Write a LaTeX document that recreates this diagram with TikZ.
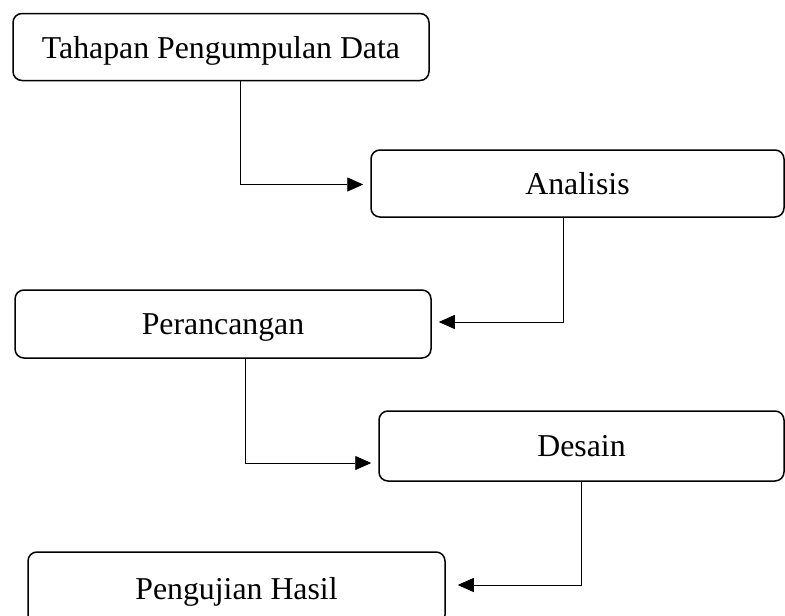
\documentclass[tikz,border=0pt]{standalone}
\usepackage{fontspec}
\setmainfont{Liberation Serif}
\usetikzlibrary{arrows.meta}

\begin{document}
\begin{tikzpicture}[x=1pt,y=-1pt,
        box/.style={draw,line width=1.5pt,rounded corners=9pt,inner sep=0pt,text depth=0pt,
          font=\fontsize{31.8}{38}\selectfont},
        flow/.style={-{Triangle[length=16pt,width=14pt]},line width=0.9pt,shorten >=7pt}]

  \useasboundingbox (0,0) rectangle (785,616);

  \node[box,minimum width=416pt,minimum height=67pt] (tahap)    at (221,47) {Tahapan Pengumpulan Data};
  \node[box,minimum width=413pt,minimum height=67pt] (analisis) at (577.5,183.5) {Analisis};
  \node[box,minimum width=416pt,minimum height=68pt] (rancang)  at (223,324) {Perancangan};
  \node[box,minimum width=405pt,minimum height=70pt] (desain)   at (581.5,446) {Desain};
  \node[box,minimum width=417pt,minimum height=72pt] (uji)      at (236.5,588) {Pengujian Hasil};

  \draw[flow] ([xshift=19pt]tahap.south) |- ([yshift=-1pt]analisis.west);
  \draw[flow] ([xshift=-14.5pt]analisis.south) |- ([yshift=2pt]rancang.east);
  \draw[flow] ([xshift=22pt]rancang.south) |- ([yshift=-17pt]desain.west);
  \draw[flow,shorten >=12pt] (desain.south) |- ([yshift=3pt]uji.east);
\end{tikzpicture}
\end{document}
